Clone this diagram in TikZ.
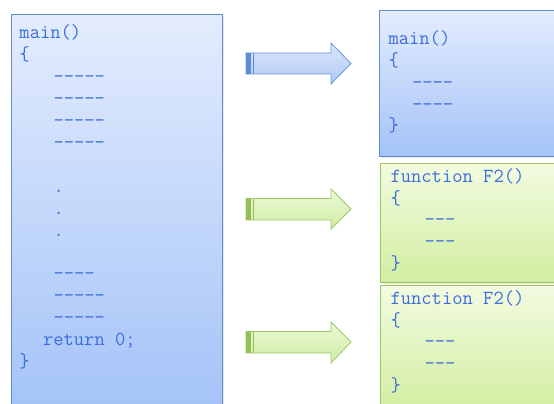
\documentclass[tikz,border=0pt]{standalone}
\usepackage{fontspec}
\usetikzlibrary{shadows}

\definecolor{codeblue}{RGB}{60,108,222}
\definecolor{blueTop}{RGB}{227,236,253}
\definecolor{blueBot}{RGB}{164,195,248}
\definecolor{blueEdge}{RGB}{100,140,200}
\definecolor{greenTop}{RGB}{242,251,224}
\definecolor{greenBot}{RGB}{210,238,160}
\definecolor{greenEdge}{RGB}{160,196,100}
\definecolor{arrBlueTop}{RGB}{218,230,252}
\definecolor{arrBlueBot}{RGB}{176,202,246}
\definecolor{arrBlueEdge}{RGB}{110,150,214}
\definecolor{arrBlueTail}{RGB}{92,140,210}
\definecolor{arrGreenTop}{RGB}{236,249,214}
\definecolor{arrGreenBot}{RGB}{208,237,166}
\definecolor{arrGreenEdge}{RGB}{160,198,104}
\definecolor{arrGreenTail}{RGB}{150,190,86}

\tikzset{
  codeline/.style={anchor=base west, inner sep=0pt, outer sep=0pt,
    font=\ttfamily\fontsize{20}{22}\selectfont, text=codeblue},
  bluebox/.style={draw=blueEdge, line width=1pt, top color=blueTop, bottom color=blueBot,
    drop shadow={opacity=0.18, shadow xshift=1.5pt, shadow yshift=-1.5pt}},
  greenbox/.style={draw=greenEdge, line width=1pt, top color=greenTop, bottom color=greenBot,
    drop shadow={opacity=0.18, shadow xshift=1.5pt, shadow yshift=-1.5pt}},
  bluearrow/.style={draw=arrBlueEdge, line width=0.8pt, top color=arrBlueTop, bottom color=arrBlueBot},
  greenarrow/.style={draw=arrGreenEdge, line width=0.8pt, top color=arrGreenTop, bottom color=arrGreenBot},
}

% block arrow: #1 style, #2 tail colour, #3 shaft top y, #4 shaft bottom y,
% #5 head top y, #6 head bottom y, #7 tip y
\newcommand{\blockarrow}[7]{%
  \draw[#1] (246,#3) -- (331,#3) -- (331,#5) -- (351,#7) -- (331,#6) -- (331,#4) -- (246,#4) -- cycle;
  \fill[#2] (246,#3) rectangle (251,#4);
  \fill[#2] (252.5,#3) rectangle (254,#4);
}

% x position of a code line: left margin #1, indent #2 (in character cells)
\newcommand{\codex}[2]{#1+10.5*#2+2.5*min(#2,1)}

\begin{document}
\begin{tikzpicture}[x=1pt,y=-1pt]
\useasboundingbox (0,0) rectangle (554,404);
\clip (0,0) rectangle (554,404);

% source listing
\path[bluebox] (11,15) rectangle (222,412);
\foreach \txt/\ind/\row [count=\i] in {
  main()/0/0, \{/0/1, -----/3/2, -----/3/3, -----/3/4, -----/3/5,
  ./3/7, ./3/8, ./3/9, ----/3/11, -----/3/12, -----/3/13,
  return 0;/2/14, \}/0/15}
  \node[codeline] (s\i) at ({\codex{19.5}{\ind}},{39+21.9*\row}) {\txt};

% main after splitting
\path[bluebox] (379,11) rectangle (560,156);
\foreach \txt/\ind/\row [count=\i] in {
  main()/0/0, \{/0/1, ----/2/2, ----/2/3, \}/0/4}
  \node[codeline] (m\i) at ({\codex{388.5}{\ind}},{45+21.7*\row}) {\txt};

% first function
\path[greenbox] (380,163) rectangle (560,282);
\foreach \txt/\ind/\row [count=\i] in {
  function F2()/0/0, \{/0/1, ---/3/2, ---/3/3, \}/0/4}
  \node[codeline] (f\i) at ({\codex{390.5}{\ind}},{182.5+21.7*\row}) {\txt};

% second function
\path[greenbox] (380,285) rectangle (560,412);
\foreach \txt/\ind/\row [count=\i] in {
  function F2()/0/0, \{/0/1, ---/3/2, ---/3/3, \}/0/4}
  \node[codeline] (g\i) at ({\codex{390.5}{\ind}},{304.5+21.7*\row}) {\txt};

% arrows
\blockarrow{bluearrow}{arrBlueTail}{53}{74}{43}{84}{63.5}
\blockarrow{greenarrow}{arrGreenTail}{198.5}{220}{189}{229}{209}
\blockarrow{greenarrow}{arrGreenTail}{331.5}{353}{322}{363}{342}
\end{tikzpicture}
\end{document}
